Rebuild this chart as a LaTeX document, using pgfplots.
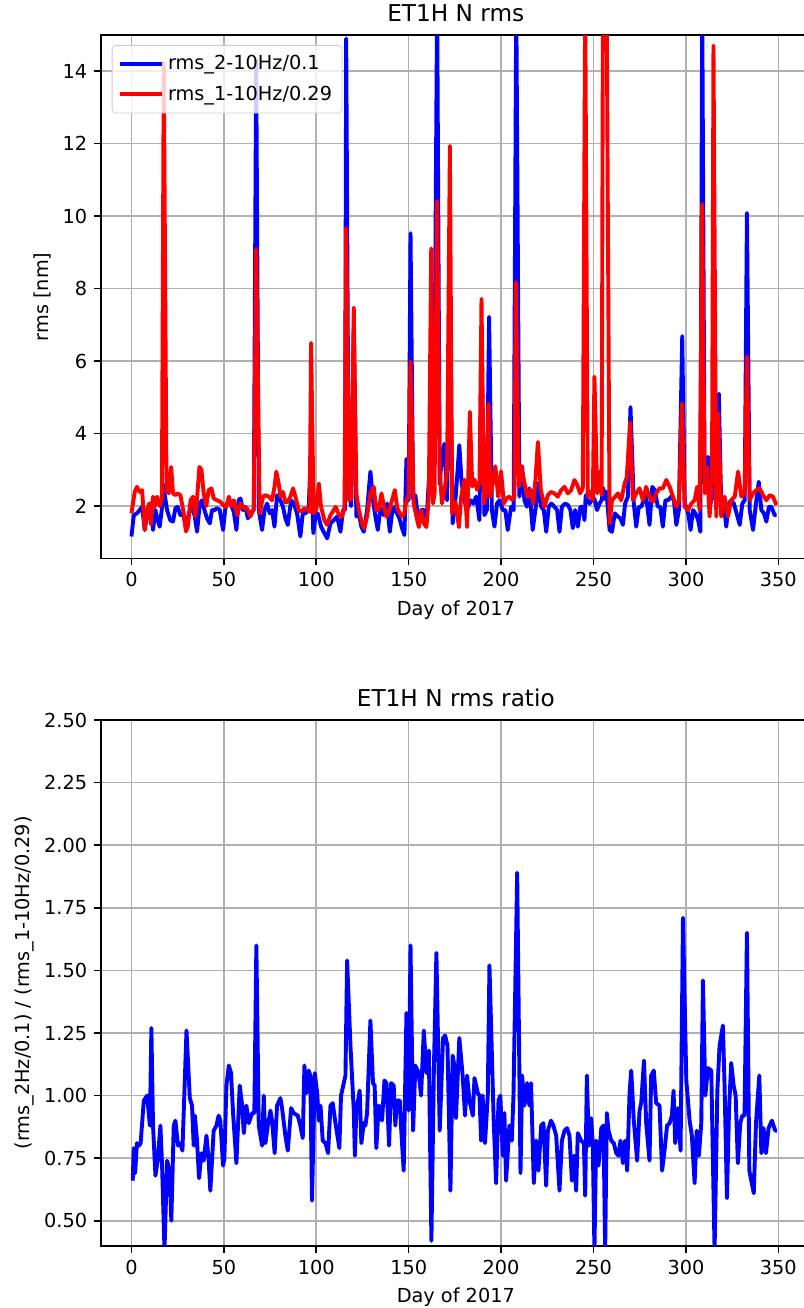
\documentclass[border=0pt]{standalone}
\usepackage{fontspec}
\setmainfont{DejaVu Sans}
\usepackage{pgfplots}
\pgfplotsset{compat=1.18}
\definecolor{gridgray}{RGB}{176,176,176}
\begin{document}
\begin{tikzpicture}
\path[use as bounding box] (0pt,0pt) rectangle (402pt,-654pt);
\pgfplotsset{
  every axis/.append style={
    scale only axis, width=354.8pt,
    xmin=-16.45, xmax=367.45,
    xtick={0,50,...,350},
    tick pos=left,
    grid=major, grid style={color=gridgray, line width=0.77pt},
    axis line style={line width=0.77pt},
    tick align=outside, major tick length=3.4pt,
    every tick/.style={line width=0.77pt, black},
    tick label style={font=\fontsize{9.65}{11.6}\selectfont},
    label style={font=\fontsize{9.65}{11.6}\selectfont},
    title style={font=\fontsize{11.6}{13.9}\selectfont, yshift=-3pt},
    /pgf/number format/assume math mode=true,
  },
}
\begin{axis}[at={(50.5pt,-17.5pt)}, anchor=north west, height=261.8pt,
  ymin=0.55, ymax=15, ytick={2,4,...,14},
  title={ET1H N rms}, xlabel={Day of 2017}, ylabel={rms [nm]}, ylabel shift=-1pt,
  legend style={at={(0.0151,0.981)}, anchor=north west, draw=black!20, rounded corners=2pt,
    fill=white, fill opacity=0.8, text opacity=1, font=\fontsize{9.65}{11.6}\selectfont,
    row sep=2.5pt, inner xsep=3pt, inner ysep=3pt},
  legend cell align=left,
  legend image code/.code={\draw[#1] (0pt,0pt) -- (21pt,0pt);},
]
\addplot[color={rgb,1:red,0;green,0;blue,1}, line width=1.95pt, line join=round] coordinates {
(0,1.16) (1.3,1.75) (3,1.8) (4.5,1.89) (5.8,1.98) (7.2,1.34) (8.8,1.89) (10.3,2.07) (11.7,1.34) (13,1.89) (14.2,1.61) (15.3,1.43) (16.6,1.98) (17.5,2.6) (17.9,2.35) (19.3,1.89) (21,1.61) (22.5,1.57) (23.8,1.94) (25,1.98) (26.5,1.75) (28,1.8) (29.8,1.34) (31,1.8) (32.8,1.98) (34.3,1.71) (35.5,1.29) (37,2.07) (38.2,2.16) (39.5,1.89) (40.9,1.66) (42.4,1.52) (43.6,1.89) (45,1.89) (46.3,1.94) (47.8,1.89) (49.6,1.34) (50.9,1.98) (52.3,2.12) (53.6,2.07) (55.4,1.84) (56.8,1.34) (58,2.16) (59,2.21) (60.4,1.89) (61.7,1.98) (63,1.66) (64.4,1.8) (66.2,1.89) (67.5,14.3) (68.9,1.89) (70.7,1.34) (72,1.89) (73.4,2.07) (74.8,1.8) (76.1,1.89) (77.4,1.43) (78.8,2.3) (80.6,2.16) (82,1.98) (83.3,1.66) (84.6,1.48) (86.4,2.16) (87.8,2.07) (89.6,1.8) (91.4,1.16) (92.7,1.8) (94.1,1.8) (95.9,1.89) (97.2,3.7) (98.4,1.25) (99.5,1.71) (100.8,1.8) (102.6,1.43) (104,1.29) (105.9,1.11) (107.7,1.52) (109.5,1.61) (111.3,1.71) (113.1,1.29) (114.5,1.89) (115.5,1.89) (116.2,14.9) (117.5,2.6) (118.8,2.0) (120.3,7.0) (121.7,1.71) (123,1.8) (124.4,1.43) (125.7,1.29) (127.5,1.89) (129.3,2.95) (130.7,2.16) (132,1.71) (133.3,1.34) (134.7,1.94) (136.5,1.75) (138.3,2.07) (139.8,1.29) (141,1.8) (142.3,1.98) (143.7,1.8) (145,1.66) (146.4,1.39) (147.7,1.2) (148.8,3.3) (150,2.16) (151,9.53) (152.4,2.2) (153.6,2.3) (155.4,1.55) (156.7,1.89) (158.2,1.9) (159.6,1.55) (160.9,2.67) (162.3,3.8) (163.6,2.5) (165.4,16) (166.8,2.6) (167.5,3.08) (169.3,3.72) (170.8,2.16) (172.3,7.3) (173.8,1.52) (175.6,2.35) (177.4,3.68) (178.7,2.62) (180.1,2.16) (181.6,1.89) (183.4,2.16) (185,2.07) (186.5,2.26) (188.3,1.61) (189.4,6.3) (191,1.75) (192.3,1.89) (193.5,7.22) (195,1.89) (196.4,1.43) (197.8,2.07) (199.2,2.16) (200.9,1.89) (202.3,1.89) (203.6,1.34) (205.4,1.98) (206.8,1.89) (208.2,16) (209.9,2.26) (211.4,3.1) (212.6,2.16) (214,1.98) (215.3,2.49) (217.1,1.34) (219,2.07) (220.2,2.64) (221.7,1.98) (223.1,1.89) (224.4,1.29) (225.8,1.98) (227.2,2.07) (228.9,1.98) (230.3,1.89) (231.6,1.29) (232.9,1.98) (234.7,2.07) (236.1,2.03) (237.5,1.89) (238.8,1.39) (240.1,1.89) (241.5,1.43) (242.9,1.98) (244.2,1.98) (245.1,1.61) (245.8,2.3) (247.8,2.07) (249.1,2.16) (250.5,2.2) (251.9,1.89) (253.2,2.07) (254.4,2.16) (255.2,2.5) (256.1,2.2) (257,2.4) (258.7,1.34) (260,1.29) (261.5,1.8) (263.2,1.71) (264.6,1.66) (265.9,1.48) (267.1,2.07) (268.6,2.26) (270,4.73) (271.8,2.07) (273.1,1.43) (274.5,1.98) (275.8,1.98) (277.2,2.16) (278.5,2.26) (280.3,1.48) (281.8,2.53) (283.2,2.44) (284.8,1.98) (286.1,1.98) (287.5,1.43) (288.9,2.16) (290.3,2.16) (292,2.26) (293.5,2.16) (294.8,1.48) (296.2,1.89) (298,6.69) (299.3,2.07) (300.2,1.98) (301.4,1.75) (302.5,1.34) (303.8,1.89) (305.1,1.8) (306.6,1.61) (307.8,1.29) (308.8,16) (310.1,2.62) (311.9,3.36) (313.3,2.07) (314.6,2.44) (315.2,3.0) (316.4,1.9) (317.8,5.1) (319.1,1.98) (320.5,2.07) (321.8,1.43) (323.1,2.07) (324.5,2.16) (325.9,2.07) (327.4,1.8) (329.1,1.48) (330.5,2.07) (331.8,2.16) (333,10.09) (334.5,1.89) (336.3,1.34) (338.1,2.16) (339.4,2.67) (340.8,1.89) (342.2,1.8) (343.5,1.57) (344.9,1.98) (346.2,1.98) (348,1.75) (349,1.75)
};
\addlegendentry{rms\_2-10Hz/0.1}
\addplot[color={rgb,1:red,1;green,0;blue,0}, line width=1.95pt, line join=round] coordinates {
(0,1.8) (1.8,2.39) (3,2.53) (4.5,2.39) (5.8,2.44) (7.2,1.34) (8.5,1.89) (9.6,2.07) (10.5,1.5) (11.7,2.26) (12.6,1.98) (13.9,2.26) (15.3,2.0) (16.5,2.2) (17.5,14.24) (19,2.44) (20.2,2.35) (21.5,3.08) (22.5,2.35) (23.8,2.3) (25,2.35) (26.5,2.3) (28,1.89) (29.5,1.3) (30.5,1.43) (32,2.16) (33.4,2.26) (34.6,1.71) (35.5,2.2) (36.8,3.08) (37.9,3.0) (39.1,2.35) (40.5,2.0) (41.8,2.44) (43.3,2.49) (44.5,2.21) (46.3,2.16) (48.1,2.12) (49.6,2.03) (51.4,1.98) (52.7,2.26) (54,2.0) (55.4,2.16) (57.2,1.75) (59,2.07) (60.8,1.95) (62.6,1.94) (64.4,1.71) (66.2,1.94) (67.5,9.09) (69.4,1.8) (71.2,2.26) (72.5,2.3) (74.3,2.26) (76.1,2.16) (77.4,2.53) (78.4,2.95) (79.7,2.62) (80.6,2.26) (82,2.39) (83.3,2.1) (84.6,2.12) (86,2.26) (87.5,2.49) (89,2.2) (90.5,1.89) (92,1.85) (93.6,1.94) (95,1.9) (96.5,1.84) (97.2,6.5) (98.6,1.8) (100,1.9) (101.4,2.62) (102.6,1.98) (104.4,1.61) (105.9,1.48) (107.7,1.75) (109,1.85) (110.5,1.98) (112.3,1.75) (114,1.71) (115.3,1.98) (116.2,9.67) (117.8,2.16) (119,2.2) (120.3,7.48) (121.7,2.35) (123,1.9) (124.8,1.52) (126,1.39) (127.5,1.71) (129.3,2.35) (131.1,2.53) (132.5,1.89) (133.8,1.9) (135.3,2.35) (136.8,1.95) (138,1.71) (139.5,1.9) (141,2.16) (142.5,2.44) (143.8,1.95) (145.2,1.8) (146.4,1.71) (147.6,1.8) (148.8,2.16) (150,2.3) (151,5.99) (152.7,2.07) (154.2,1.7) (155.5,1.42) (156.7,1.89) (158.2,1.52) (159.6,1.42) (160.9,2.26) (162.2,9.11) (163.2,2.07) (164,2.35) (165.4,10.42) (166.8,3.0) (168,2.07) (169.3,2.4) (170.8,3.0) (172.3,11.94) (173.5,1.8) (175.3,2.12) (177.2,1.42) (178.4,2.26) (180.2,2.73) (181.6,1.42) (183.1,4.6) (184.4,2.54) (185.6,2.73) (187,2.45) (188.3,2.63) (189.4,7.72) (190.7,2.07) (191.9,2.35) (193.2,4.83) (194.2,2.26) (195.5,2.63) (196.9,3.1) (198.4,2.26) (200,2.96) (201.5,2.07) (202.9,2.21) (204.5,2.26) (206,2.17) (207.2,2.26) (208,8.18) (209.6,2.54) (210.9,3.1) (212.3,2.73) (214.1,2.26) (215.9,2.45) (217.4,2.07) (218.6,2.73) (219.9,3.77) (221.5,2.44) (223.5,1.98) (225.3,2.3) (227,2.39) (228.8,2.35) (230.7,2.26) (232.5,2.44) (234.3,2.53) (236.1,2.35) (237.9,2.44) (239.7,2.72) (241.2,2.58) (242.7,2.35) (244.2,2.49) (245.5,16) (246.9,2.26) (248.3,2.4) (249.6,2.16) (250.5,5.57) (252,2.35) (253.2,2.95) (254.4,2.3) (255.2,18) (256.1,15.5) (257,17) (258.7,1.52) (260,2.16) (261.6,2.25) (263.2,2.35) (265,2.16) (266.8,2.62) (268,2.8) (269.8,4.31) (271.3,2.16) (273.1,2.35) (274.9,2.49) (276.7,2.16) (278.5,2.53) (280.3,2.25) (282.1,2.12) (283.9,2.35) (285.7,2.49) (287.5,2.49) (289.4,2.72) (291.2,2.53) (293,2.26) (294.8,1.98) (296.3,2.16) (297.8,4.83) (299.3,1.98) (301.1,1.89) (302.9,2.07) (304.7,2.16) (306.1,2.53) (307.4,1.89) (308.8,10.33) (310.1,2.35) (311.4,3.08) (312.8,1.71) (314.1,2.72) (314.9,14.71) (316.4,1.71) (317.5,4.55) (319.1,1.71) (320.9,2.26) (322.7,1.71) (324.5,2.16) (326.4,2.26) (328.2,2.95) (330,2.26) (331.8,2.35) (333,6.13) (334.5,2.16) (336.3,2.35) (338.1,2.44) (339.9,2.49) (341.7,2.3) (343.5,2.16) (345.3,2.3) (347.1,2.26) (348.9,2.03)
};
\addlegendentry{rms\_1-10Hz/0.29}
\end{axis}
\begin{axis}[at={(50.5pt,-360pt)}, anchor=north west, height=262.9pt,
  ymin=0.4, ymax=2.5, ytick={0.5,0.75,1,1.25,1.5,1.75,2,2.25,2.5},
  yticklabel style={/pgf/number format/.cd, fixed, fixed zerofill, precision=2},
  title={ET1H N rms ratio}, xlabel={Day of 2017}, ylabel={(rms\_2Hz/0.1) / (rms\_1-10Hz/0.29)}, ylabel shift=-2pt,
]
\addplot[color={rgb,1:red,0;green,0;blue,1}, line width=1.95pt, line join=round] coordinates {
(0.7,0.66) (1.3,0.79) (2,0.69) (3,0.81) (4,0.80) (5,0.81) (6.7,0.98) (8.5,1.0) (10,0.88) (10.8,1.27) (11.7,0.88) (13,0.68) (14.2,0.74) (15.7,0.88) (16.6,0.72) (17.9,0.38) (19.3,0.74) (20.6,0.70) (21.6,0.50) (22.9,0.88) (23.8,0.90) (25.2,0.80) (26.5,0.81) (27.6,0.78) (29.8,1.26) (31.6,0.99) (32.8,0.96) (33.7,0.80) (34.3,0.92) (35.4,0.83) (36.6,0.67) (37.9,0.77) (39.1,0.74) (40.6,0.84) (41.8,0.74) (42.7,0.62) (44.5,0.86) (46,0.88) (47.2,0.92) (48.1,0.90) (49.6,0.72) (50.3,0.75) (51.4,1.04) (52.7,1.12) (53.9,1.09) (55,0.93) (56.8,0.73) (58.6,1.04) (59.9,0.96) (60.8,0.85) (62.2,0.96) (63.5,0.89) (65.3,0.93) (66.5,0.93) (67.6,1.60) (68.9,0.88) (70.7,0.80) (71.6,1.0) (72.5,0.81) (73.8,0.88) (75.2,0.94) (76.1,0.90) (77.5,0.77) (78.8,0.96) (80.6,0.99) (81.5,0.95) (83.3,0.84) (84.6,0.78) (86.4,0.95) (87.8,0.93) (90,0.92) (91.4,0.88) (92.7,0.83) (93.6,1.12) (94.7,1.01) (95.9,1.10) (96.8,1.08) (97.7,0.58) (99.2,1.09) (100.5,1.01) (101.4,0.90) (102.3,0.96) (103.5,0.82) (105,0.81) (106.4,0.77) (107.7,0.96) (108.9,0.97) (110.4,0.89) (112.5,0.79) (113.4,1.0) (115.8,1.08) (116.7,1.54) (118.5,1.2) (120.3,0.94) (120.9,0.76) (121.7,0.94) (123.5,1.02) (124.4,0.81) (125.7,0.89) (126.6,0.88) (127.5,0.93) (129.3,1.30) (130.7,1.05) (131.6,1.04) (132.5,0.79) (133.8,0.96) (134.7,0.95) (135.6,0.90) (136.9,1.06) (138,1.05) (139.4,0.80) (140.5,1.05) (141.9,1.04) (142.8,0.88) (143.7,0.98) (145.2,0.98) (146,0.86) (147.3,0.70) (148.8,1.33) (150,0.94) (151,1.60) (152.4,0.86) (153.6,1.12) (155.4,1.09) (156.7,1.0) (158.2,1.26) (159.6,1.09) (160.9,1.18) (162.3,0.42) (163.6,1.09) (165,1.57) (166.8,0.86) (168.6,1.23) (169.7,1.24) (171,1.2) (172.6,0.62) (173.8,1.16) (174.7,1.12) (175.6,0.91) (177.4,1.23) (179.2,1.08) (180.5,0.92) (181.6,1.08) (182.9,0.98) (184.7,0.92) (185.6,1.07) (187.4,1.01) (188.3,1.0) (189.2,0.82) (190,1.0) (191.3,0.81) (192.8,1.0) (193.7,1.52) (196,0.9) (197.3,0.65) (198.6,0.98) (199.6,1.0) (200.9,0.76) (201.8,0.93) (202.7,0.66) (204.5,0.88) (205.8,0.82) (206.7,1.0) (208.7,1.89) (210.5,0.69) (211.4,1.08) (212.6,0.96) (214.1,1.05) (215.3,0.96) (216.2,1.05) (217.7,0.65) (219,0.82) (220.2,0.70) (221.7,0.88) (222.9,0.89) (224.4,0.64) (225.3,0.86) (227,0.90) (228.3,0.88) (229.8,0.84) (231.6,0.62) (232.9,0.82) (234.3,0.86) (235.7,0.87) (237,0.84) (238.3,0.66) (239.4,0.76) (240.6,0.62) (241.5,0.85) (243.3,0.82) (244.8,0.81) (245.5,0.60) (246.4,1.08) (247.5,0.80) (248.7,0.91) (249.6,0.81) (250.5,0.38) (251.4,0.82) (252.7,0.72) (254.2,0.87) (255.4,0.88) (256.3,0.38) (257.2,0.93) (258.1,0.86) (259.6,0.82) (261,0.81) (262.3,0.77) (263.5,0.76) (264.6,0.82) (265.9,0.73) (267.1,0.82) (268.2,0.70) (269.5,1.01) (270.4,1.10) (271.8,0.90) (273.6,0.74) (274.9,0.94) (275.8,0.97) (277.3,1.14) (278.5,0.89) (280.3,0.74) (281.2,1.08) (282.6,1.10) (283.9,0.97) (285.7,0.96) (287.1,0.70) (288.4,0.78) (289.8,0.88) (291.2,0.89) (292.4,0.92) (293.3,1.02) (294.2,0.81) (295.7,0.95) (297.1,0.78) (298.4,1.71) (300.2,1.06) (302,0.90) (303.2,0.84) (304.7,0.65) (305.8,0.86) (307,0.76) (308.3,0.89) (309.2,1.46) (310.5,1.0) (311.9,1.11) (313.7,1.10) (315.5,0.38) (317,1.02) (318.2,1.20) (320,1.28) (320.9,1.04) (322.2,0.59) (323.3,0.94) (324.5,1.13) (325.8,1.04) (326.9,1.0) (328.1,0.73) (329.4,0.89) (330.5,0.92) (331.7,0.92) (333,1.65) (334.3,0.70) (336.7,0.61) (337.9,0.89) (339.7,1.08) (340.8,0.77) (342,0.87) (343.3,0.77) (344.7,0.87) (346.5,0.90) (348.3,0.86) (349.2,0.86)
};
\end{axis}
\end{tikzpicture}
\end{document}
